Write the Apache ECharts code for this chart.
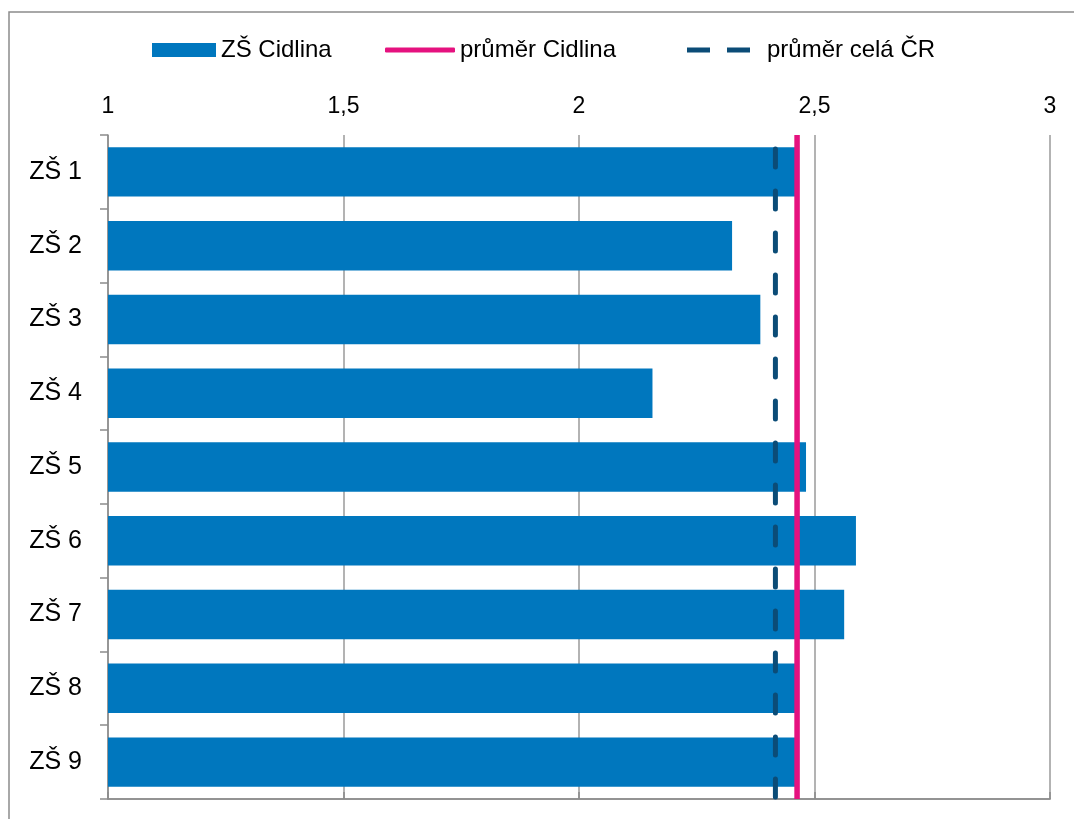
<!DOCTYPE html>
<html><head><meta charset="utf-8">
<script src="https://cdn.jsdelivr.net/npm/echarts@6/dist/echarts.min.js"></script>
<style>html,body{margin:0;padding:0;background:#fff}#c{width:1074px;height:819px}</style>
</head><body><div id="c"></div>
<script>
const categories = ['ZŠ 1','ZŠ 2','ZŠ 3','ZŠ 4','ZŠ 5','ZŠ 6','ZŠ 7','ZŠ 8','ZŠ 9'];
const barValues = [2.459, 2.325, 2.385, 2.156, 2.482, 2.588, 2.563, 2.459, 2.459];
const avgCidlina = 2.463;
const avgCR = 2.417;
const xTicks = [1, 1.5, 2, 2.5, 3];
const seriesNames = ['ZŠ Cidlina', 'průměr Cidlina', 'průměr celá ČR'];

const font = 'Liberation Sans, Arial, sans-serif';
const legendText = {fontFamily:font, fontSize:24, color:'#000'};
const chart = echarts.init(document.getElementById('c'));
chart.setOption({
  animation: false,
  backgroundColor: '#fff',
  graphic: [{type:'rect', shape:{x:9, y:12, width:1200, height:900}, style:{fill:'none', stroke:'#8c8c8c', lineWidth:1.5}, silent:true}],
  legend: [
    {data:[{name:seriesNames[0], icon:'rect'}], left:147, top:33, itemWidth:64, itemHeight:14, itemGap:0,
     textStyle:legendText},
    {data:[{name:seriesNames[1], icon:'roundRect'}], left:380, top:33, itemWidth:70, itemHeight:5, itemGap:0,
     textStyle:legendText},
    {data:[{name:seriesNames[2], icon:'path://M0,0h23v5h-23zM40,0h23v5h-23z'}], left:682, top:33, itemWidth:63, itemHeight:5, itemGap:0,
     textStyle:Object.assign({}, legendText, {padding:[0,0,0,12]})}
  ],
  grid: {left:108, right:24, top:135, bottom:20, containLabel:false},
  xAxis: [{
    type:'value', position:'top', min:xTicks[0], max:xTicks[xTicks.length-1], interval:0.5,
    axisLine:{show:true, lineStyle:{color:'#8c8c8c', width:1.5}},
    axisTick:{show:true, length:7, lineStyle:{color:'#8c8c8c', width:1.5}},
    axisLabel:{fontFamily:font, fontSize:23, color:'#000', margin:17,
      formatter: v => String(v).replace('.', ',')},
    splitLine:{show:true, lineStyle:{color:'#9a9a9a', width:1.5}}
  },{
    type:'value', position:'bottom', min:xTicks[0], max:xTicks[xTicks.length-1], interval:0.5,
    axisLine:{show:true, lineStyle:{color:'#8c8c8c', width:1.5}},
    axisTick:{show:false}, axisLabel:{show:false}, splitLine:{show:false}
  }],
  yAxis: [{
    type:'category', data:categories, inverse:true,
    axisLine:{show:true, lineStyle:{color:'#8c8c8c', width:1.5}},
    axisTick:{show:true, length:8, alignWithLabel:false, lineStyle:{color:'#8c8c8c', width:1.5}},
    axisLabel:{fontFamily:font, fontSize:25, color:'#000', margin:26},
    splitLine:{show:false}
  },{
    type:'value', min:0, max:1, show:false
  }],
  series: [
    {name:seriesNames[0], type:'bar', data:barValues, barCategoryGap:'33%',
     itemStyle:{color:'#0077BE'}, z:2},
    {name:seriesNames[2], type:'line', yAxisIndex:1, xAxisIndex:0, symbol:'none',
     data:[[avgCR,0],[avgCR,1]],
     lineStyle:{color:'#0B4C77', width:5, type:[18,24], cap:'round', dashOffset:-2},
     itemStyle:{color:'#0B4C77'}, z:4},
    {name:seriesNames[1], type:'line', yAxisIndex:1, xAxisIndex:0, symbol:'none',
     data:[[avgCidlina,0],[avgCidlina,1]],
     lineStyle:{color:'#E5127F', width:5.5},
     itemStyle:{color:'#E5127F'}, z:5}
  ]
});
</script></body></html>
